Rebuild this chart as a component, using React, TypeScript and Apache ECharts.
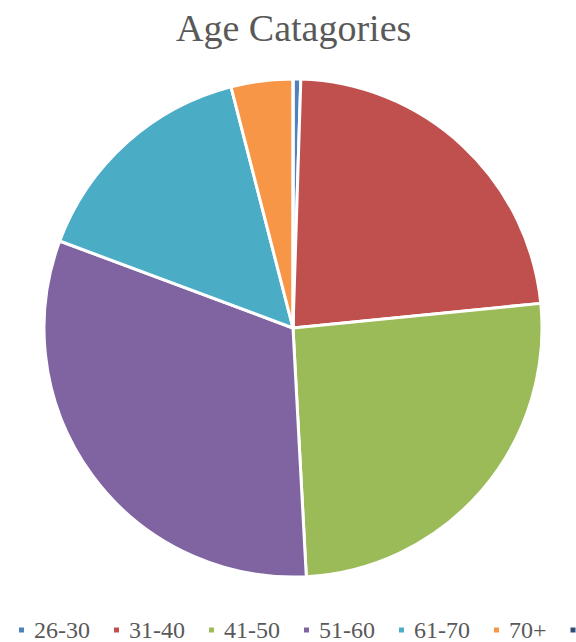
import React, { useEffect, useRef } from "react";
import * as echarts from "echarts";

const title = "Age Catagories";
const categories = ["26-30", "31-40", "41-50", "51-60", "61-70", "70+", " "];
const values = [0.5, 22.9, 25.7, 31.5, 15.3, 4.0, 0];
const colors = ["#4F81BD", "#C0504D", "#9BBB59", "#8064A2", "#4BACC6", "#F79646", "#2C4D75"];

export default function App() {
  const ref = useRef<HTMLDivElement>(null);
  useEffect(() => {
    if (!ref.current) return;
    const chart = echarts.init(ref.current, undefined, { renderer: "svg" });
    const font = "'Liberation Serif', 'Times New Roman', serif";
    chart.setOption({
      animation: false,
      backgroundColor: "#ffffff",
      title: {
        text: title,
        left: 176,
        top: 9,
        padding: 0,
        textStyle: { fontFamily: font, fontSize: 38, fontWeight: "normal", color: "#595959" },
      },
      legend: {
        orient: "horizontal",
        left: 17,
        top: 618,
        width: 900,
        padding: 0,
        icon: "rect",
        itemWidth: 7,
        itemHeight: 7,
        itemGap: 22,
        textStyle: {
          fontFamily: font,
          fontSize: 24,
          lineHeight: 20,
          color: "#595959",
          padding: [0, 0, 0, 4],
        },
        data: categories,
      },
      series: [
        {
          type: "pie",
          center: [293, 328],
          radius: 249,
          startAngle: 90,
          clockwise: true,
          label: { show: false },
          labelLine: { show: false },
          emphasis: { disabled: true },
          itemStyle: { borderColor: "#ffffff", borderWidth: 3 },
          data: categories.map((c, i) => ({
            name: c,
            value: values[i],
            itemStyle: { color: colors[i] },
          })),
        },
      ],
    });
    return () => chart.dispose();
  }, []);
  return (
    <div
      ref={ref}
      style={{ position: "fixed", left: 0, top: 0, width: 576, height: 642 }}
    />
  );
}
